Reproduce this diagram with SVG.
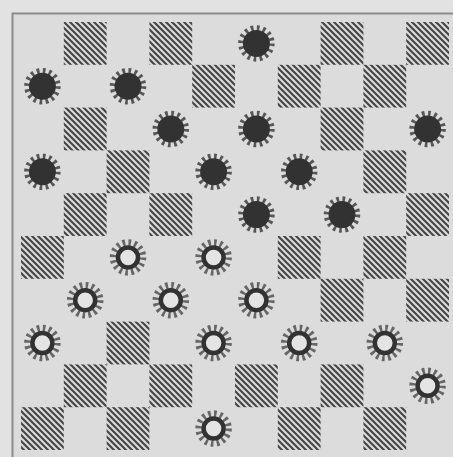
<svg xmlns="http://www.w3.org/2000/svg" xmlns:xlink="http://www.w3.org/1999/xlink" width="453" height="457" viewBox="0 0 453 457">
  <defs>
    <pattern id="hatch" patternUnits="userSpaceOnUse" width="6" height="6">
      <path d="M0,0 L6,6 M-1,5 L1,7 M5,-1 L7,1" stroke="#474747" stroke-width="2.2" fill="none"/>
    </pattern>
    <filter id="soft" x="-5%" y="-5%" width="110%" height="110%">
      <feGaussianBlur stdDeviation="0.55"/>
    </filter>
    <style>
      .dk { fill: url(#hatch); }
      .rays { fill: none; stroke-width: 6.5; stroke-dasharray: 2.6 3.29; }
    </style>
    <g id="black">
      <circle r="15" class="rays" stroke="#575757"/>
      <circle r="13.5" fill="#333333"/>
    </g>
    <g id="white">
      <circle r="15" class="rays" stroke="#666666"/>
      <circle r="10" fill="#e4e4e4" stroke="#303030" stroke-width="4.5"/>
    </g>
  </defs>
  <rect x="0" y="0" width="453" height="457" fill="#e2e2e2"/>
  <g filter="url(#soft)">
  <rect x="12.5" y="13.5" width="460" height="460" fill="#dcdcdc" stroke="#8c8c8c" stroke-width="2"/>
  <g id="board">
    <!-- row 0 -->
    <rect class="dk" x="63.8" y="22" width="42.8" height="42.8"/>
    <rect class="dk" x="149.4" y="22" width="42.8" height="42.8"/>
    <rect class="dk" x="320.6" y="22" width="42.8" height="42.8"/>
    <rect class="dk" x="406.2" y="22" width="42.8" height="42.8"/>
    <!-- row 1 -->
    <rect class="dk" x="192.2" y="64.8" width="42.8" height="42.8"/>
    <rect class="dk" x="277.8" y="64.8" width="42.8" height="42.8"/>
    <rect class="dk" x="363.4" y="64.8" width="42.8" height="42.8"/>
    <!-- row 2 -->
    <rect class="dk" x="63.8" y="107.6" width="42.8" height="42.8"/>
    <rect class="dk" x="320.6" y="107.6" width="42.8" height="42.8"/>
    <!-- row 3 -->
    <rect class="dk" x="106.6" y="150.4" width="42.8" height="42.8"/>
    <rect class="dk" x="363.4" y="150.4" width="42.8" height="42.8"/>
    <!-- row 4 -->
    <rect class="dk" x="63.8" y="193.2" width="42.8" height="42.8"/>
    <rect class="dk" x="149.4" y="193.2" width="42.8" height="42.8"/>
    <rect class="dk" x="406.2" y="193.2" width="42.8" height="42.8"/>
    <!-- row 5 -->
    <rect class="dk" x="21" y="236" width="42.8" height="42.8"/>
    <rect class="dk" x="277.8" y="236" width="42.8" height="42.8"/>
    <rect class="dk" x="363.4" y="236" width="42.8" height="42.8"/>
    <!-- row 6 -->
    <rect class="dk" x="320.6" y="278.8" width="42.8" height="42.8"/>
    <rect class="dk" x="406.2" y="278.8" width="42.8" height="42.8"/>
    <!-- row 7 -->
    <rect class="dk" x="106.6" y="321.6" width="42.8" height="42.8"/>
    <!-- row 8 -->
    <rect class="dk" x="63.8" y="364.4" width="42.8" height="42.8"/>
    <rect class="dk" x="149.4" y="364.4" width="42.8" height="42.8"/>
    <rect class="dk" x="235" y="364.4" width="42.8" height="42.8"/>
    <rect class="dk" x="320.6" y="364.4" width="42.8" height="42.8"/>
    <!-- row 9 -->
    <rect class="dk" x="21" y="407.2" width="42.8" height="42.8"/>
    <rect class="dk" x="106.6" y="407.2" width="42.8" height="42.8"/>
    <rect class="dk" x="277.8" y="407.2" width="42.8" height="42.8"/>
    <rect class="dk" x="363.4" y="407.2" width="42.8" height="42.8"/>
  </g>
  <g id="black-pieces">
    <g id="b-r0c5"><use xlink:href="#black" x="256.4" y="43.4"/></g>
    <g id="b-r1c0"><use xlink:href="#black" x="42.4" y="86.2"/></g>
    <g id="b-r1c2"><use xlink:href="#black" x="128" y="86.2"/></g>
    <g id="b-r2c3"><use xlink:href="#black" x="170.8" y="129"/></g>
    <g id="b-r2c5"><use xlink:href="#black" x="256.4" y="129"/></g>
    <g id="b-r2c9"><use xlink:href="#black" x="427.6" y="129"/></g>
    <g id="b-r3c0"><use xlink:href="#black" x="42.4" y="171.8"/></g>
    <g id="b-r3c4"><use xlink:href="#black" x="213.6" y="171.8"/></g>
    <g id="b-r3c6"><use xlink:href="#black" x="299.2" y="171.8"/></g>
    <g id="b-r4c5"><use xlink:href="#black" x="256.4" y="214.6"/></g>
    <g id="b-r4c7"><use xlink:href="#black" x="342" y="214.6"/></g>
  </g>
  <g id="white-pieces">
    <g id="w-r5c2"><use xlink:href="#white" x="128" y="257.4"/></g>
    <g id="w-r5c4"><use xlink:href="#white" x="213.6" y="257.4"/></g>
    <g id="w-r6c1"><use xlink:href="#white" x="85.2" y="300.2"/></g>
    <g id="w-r6c3"><use xlink:href="#white" x="170.8" y="300.2"/></g>
    <g id="w-r6c5"><use xlink:href="#white" x="256.4" y="300.2"/></g>
    <g id="w-r7c0"><use xlink:href="#white" x="42.4" y="343"/></g>
    <g id="w-r7c4"><use xlink:href="#white" x="213.6" y="343"/></g>
    <g id="w-r7c6"><use xlink:href="#white" x="299.2" y="343"/></g>
    <g id="w-r7c8"><use xlink:href="#white" x="384.8" y="343"/></g>
    <g id="w-r8c9"><use xlink:href="#white" x="427.6" y="385.8"/></g>
    <g id="w-r9c4"><use xlink:href="#white" x="213.6" y="428.6"/></g>
  </g>
  </g>
</svg>
